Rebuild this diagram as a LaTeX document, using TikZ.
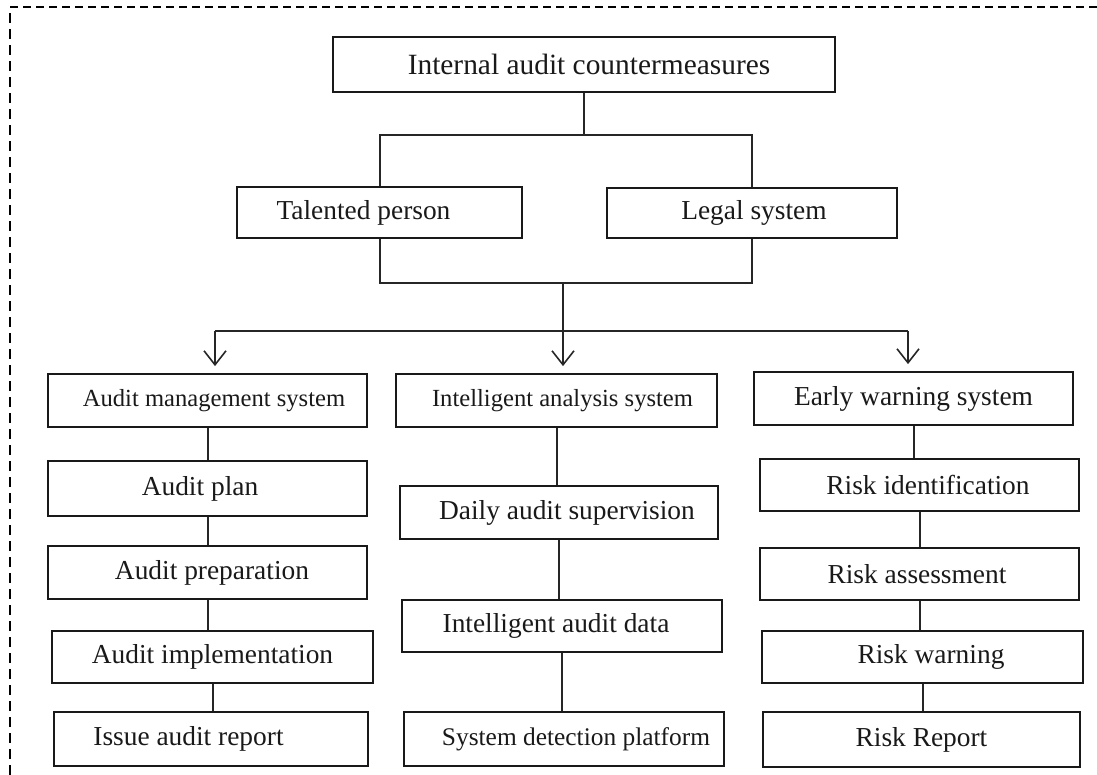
\documentclass[tikz,border=0pt]{standalone}
\usepackage{fontspec}
\setmainfont{Liberation Serif}
\usetikzlibrary{arrows.meta}
\tikzset{
  bx/.style 2 args={draw=black!90, line width=1.8pt, inner sep=0pt, minimum width=#1pt, minimum height=#2pt},
  tf/.style={font=\fontsize{#1pt}{#1pt}\selectfont, inner sep=0pt, text=black!90},
  conn/.style={line width=2pt, draw=black!85},
  arr/.style={conn, line width=1.6pt, -{Straight Barb[length=14pt,width=22pt]}, shorten >=7pt},
  frame/.style={line width=2pt, draw=black}
}
\begin{document}
\begin{tikzpicture}[x=1pt,y=-1pt]
\useasboundingbox (0,0) rectangle (1097,775);
% dashed frame
\coordinate (fl) at (10,775);
\coordinate (fc) at (10,7);
\coordinate (fr) at (1097,7);
\draw[frame, dash pattern=on 10pt off 6pt] (fl) -- (fc);
\draw[frame, dash pattern=on 8pt off 5pt] (fc) -- (fr);

% top levels
\node[bx={502}{55}, label={[tf=29.4, xshift=5pt]center:Internal audit countermeasures}] (top) at (584,64.5) {};
\node[bx={285}{51}, label={[tf=27.4, xshift=-16pt]center:Talented person}] (tal) at (379.5,212.5) {};
\node[bx={290}{50}, label={[tf=27.4, xshift=2pt]center:Legal system}] (legal) at (752,213) {};

% systems
\node[bx={319}{53}, label={[tf=24.6, xshift=6.5pt]center:Audit management system}] (ams) at (207.5,400.5) {};
\node[bx={321}{53}, label={[tf=24.6, xshift=6pt]center:Intelligent analysis system}] (ias) at (556.5,400.5) {};
\node[bx={319}{53}, label={[tf=27.4]center:Early warning system}] (ews) at (913.5,398.5) {};

% left column
\node[bx={319}{55}, label={[tf=27.4, xshift=-7.5pt]center:Audit plan}] (plan) at (207.5,488.5) {};
\node[bx={319}{53}, label={[tf=27.4, xshift=4.5pt]center:Audit preparation}] (prep) at (207.5,572.5) {};
\node[bx={321}{52}, label={[tf=27.4]center:Audit implementation}] (impl) at (212.5,657) {};
\node[bx={314}{54}, label={[tf=27.4, xshift=-22.5pt]center:Issue audit report}] (issue) at (211,739) {};

% middle column
\node[bx={318}{53}, label={[tf=27.4, xshift=8pt]center:Daily audit supervision}] (daily) at (559,512.5) {};
\node[bx={320}{52}, label={[tf=27.4, xshift=-6pt]center:Intelligent audit data}] (iad) at (562,626) {};
\node[bx={320}{54}, label={[tf=25.4, xshift=12pt]center:System detection platform}] (sdp) at (564,739) {};

% right column
\node[bx={319}{52}, label={[tf=27.4, xshift=8.5pt]center:Risk identification}] (rid) at (919.5,485) {};
\node[bx={319}{52}, label={[tf=27.4, xshift=-2.5pt]center:Risk assessment}] (rass) at (919.5,574) {};
\node[bx={321}{52}, label={[tf=27.4, xshift=8.5pt]center:Risk warning}] (rwarn) at (922.5,657) {};
\node[bx={317}{55}, label={[tf=27.4]center:Risk Report}] (rrep) at (921.5,739.5) {};

% junctions
\coordinate (j1) at (584,135);
\coordinate (j2) at (563,283);
\coordinate (a1) at (215,331);
\coordinate (a2) at (563,331);
\coordinate (a3) at (908,331);

\draw[conn] (top.south) -- (j1);
\draw[conn] (tal.north) |- (j1) -| (legal.north);
\draw[conn] (tal.south) |- (j2) -| (legal.south);
\draw[conn] (a1) -- (a3);
\draw[arr] (j2) -- (a2 |- ias.north);
\draw[arr] (a1) -- (a1 |- ams.north);
\draw[arr] (a3) -- (a3 |- ews.north);

% column connectors
\draw[conn] (ams.south) -- (ams.south |- plan.north);
\draw[conn] (plan.south) -- (plan.south |- prep.north);
\draw[conn] (prep.south) -- (prep.south |- impl.north);
\draw[conn] (impl.south) -- (impl.south |- issue.north);
\draw[conn] (ias.south) -- (ias.south |- daily.north);
\draw[conn] (daily.south) -- (daily.south |- iad.north);
\draw[conn] (iad.south) -- (iad.south |- sdp.north);
\draw[conn] (ews.south) -- (ews.south |- rid.north);
\draw[conn] (rid.south) -- (rid.south |- rass.north);
\draw[conn] (rass.south) -- (rass.south |- rwarn.north);
\draw[conn] (rwarn.south) -- (rwarn.south |- rrep.north);
\end{tikzpicture}
\end{document}
